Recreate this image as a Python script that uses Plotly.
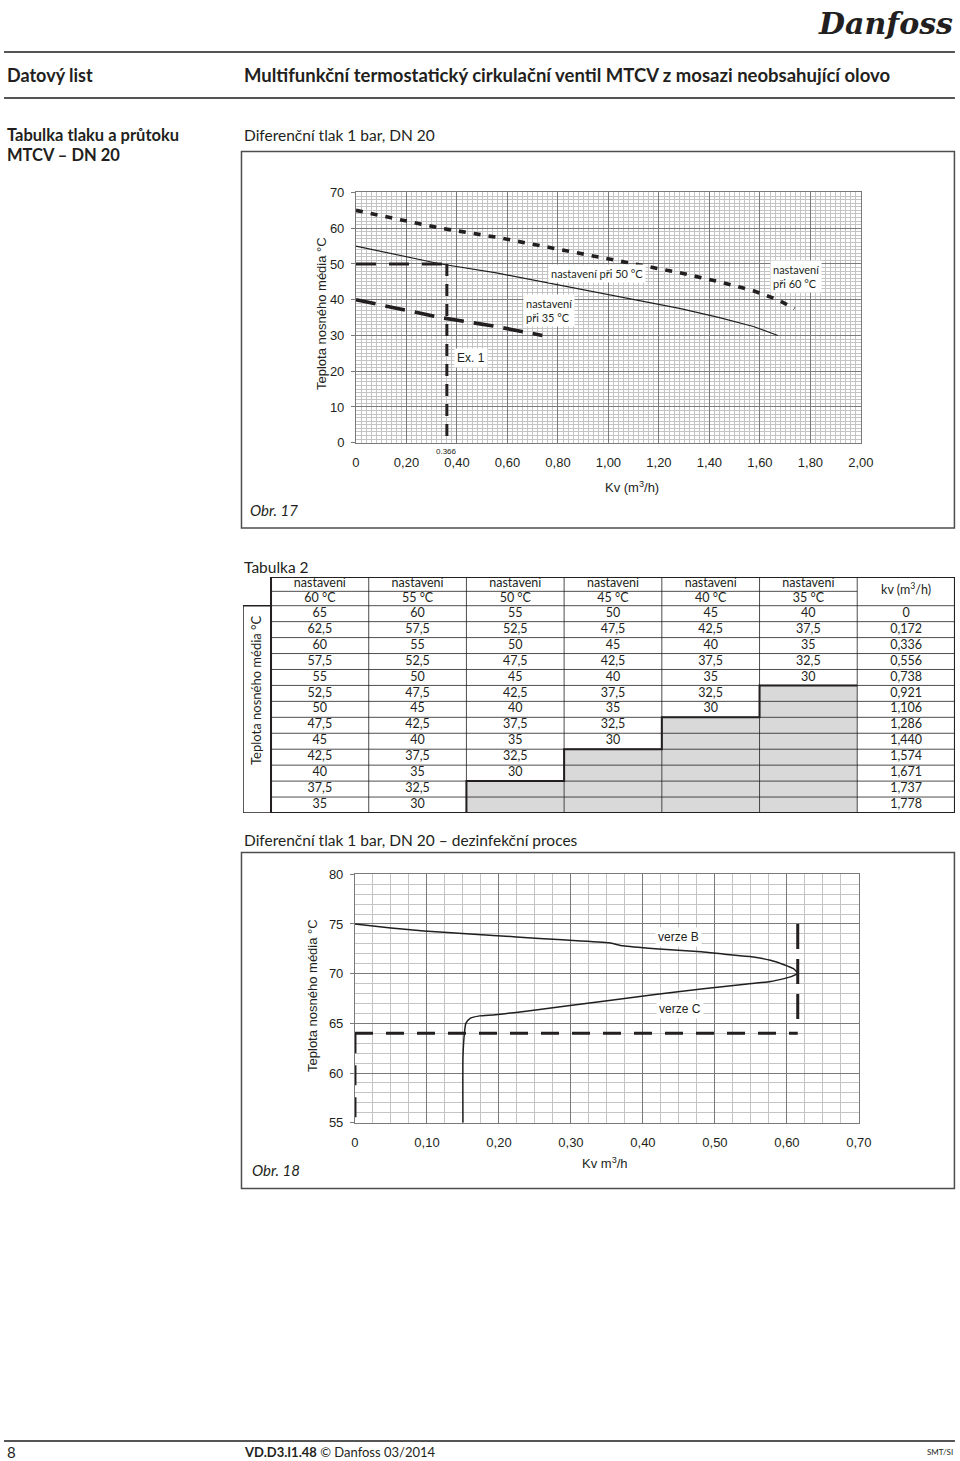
import plotly.graph_objects as go

# The photographed page comes out slightly scaled/offset relative to figure pixels
# (measured: screen_x ~ 4 + 0.9826*fig_x, screen_y ~ 7 + 0.9898*fig_y).
# All positions below are given in reference-picture pixels and mapped back.
SX, SY, OX, OY = 0.9826, 0.9898, 4.0, 7.0
W = int((960 - OX) / SX) + 1
H = int((1461 - OY) / SY) + 1
def px(x): return ((x - OX) / SX) / W
def py(y): return 1 - ((y - OY) / SY) / H

INK = "#231f20"
MYRIAD = "Lato, 'Open Sans', sans-serif"
COND = "Lato, Roboto, sans-serif"
ARIAL = "'Liberation Sans', Arial, sans-serif"

# ---------------- data: Tabulka 2 ----------------
settings = ["60 °C", "55 °C", "50 °C", "45 °C", "40 °C", "35 °C"]
kv = [0, 0.172, 0.336, 0.556, 0.738, 0.921, 1.106, 1.286, 1.440, 1.574, 1.671, 1.737, 1.778]
t60 = [65, 62.5, 60, 57.5, 55, 52.5, 50, 47.5, 45, 42.5, 40, 37.5, 35]
t55 = [60, 57.5, 55, 52.5, 50, 47.5, 45, 42.5, 40, 37.5, 35, 32.5, 30]
t50 = [55, 52.5, 50, 47.5, 45, 42.5, 40, 37.5, 35, 32.5, 30]
t45 = [50, 47.5, 45, 42.5, 40, 37.5, 35, 32.5, 30]
t40 = [45, 42.5, 40, 37.5, 35, 32.5, 30]
t35 = [40, 37.5, 35, 32.5, 30]
table_cols = [t60, t55, t50, t45, t40, t35]

# ---------------- data: Obr. 17 ----------------
x1_ticks = [0, 0.2, 0.4, 0.6, 0.8, 1.0, 1.2, 1.4, 1.6, 1.8, 2.0]
x1_ticktext = ["0", "0,20", "0,40", "0,60", "0,80", "1,00", "1,20", "1,40", "1,60", "1,80", "2,00"]
y1_ticks = [0, 10, 20, 30, 40, 50, 60, 70]
n60_plot = 12          # 60 °C curve drawn up to kv 1,737
ex1_kv = 0.36
ex1_label = "0.366"
ex1_temp = 50

# ---------------- data: Obr. 18 ----------------
x2_ticks = [0, 0.1, 0.2, 0.3, 0.4, 0.5, 0.6, 0.7]
x2_ticktext = ["0", "0,10", "0,20", "0,30", "0,40", "0,50", "0,60", "0,70"]
y2_ticks = [55, 60, 65, 70, 75, 80]
bc_kv = [0, 0.05, 0.096, 0.16, 0.224, 0.288, 0.353, 0.372, 0.417, 0.481, 0.513, 0.551,
         0.577, 0.596, 0.609, 0.615, 0.606, 0.596, 0.577, 0.545, 0.513, 0.481, 0.417,
         0.353, 0.288, 0.224, 0.192, 0.173, 0.160, 0.154, 0.152, 0.150, 0.150]
bc_temp = [75, 74.6, 74.3, 74.0, 73.7, 73.4, 73.1, 72.8, 72.5, 72.2, 71.95, 71.7,
           71.35, 70.9, 70.5, 70.05, 69.7, 69.5, 69.2, 68.95, 68.7, 68.45, 67.9,
           67.3, 66.7, 66.1, 65.85, 65.75, 65.5, 65.0, 64.0, 61.6, 55]
dis_temp = 64
dis_kv = 0.615
dis_top = 75
dis_bottom = 65
y2_min = 55


def fmt(v):
    return f"{v:g}".replace(".", ",")


def fmt_kv(v):
    return "0" if v == 0 else f"{v:.3f}".replace(".", ",")


fig = go.Figure()

# ================= Obr. 17 =================
fig.add_trace(go.Scatter(x=kv[:n60_plot], y=t60[:n60_plot], mode="lines",
                         line=dict(color=INK, width=3.6, dash="7px,8px"),
                         xaxis="x", yaxis="y"))
fig.add_trace(go.Scatter(x=kv[:len(t50)], y=t50, mode="lines",
                         line=dict(color=INK, width=1.2),
                         xaxis="x", yaxis="y"))
fig.add_trace(go.Scatter(x=kv[:len(t35)], y=t35, mode="lines",
                         line=dict(color=INK, width=3.6, dash="20px,10px"),
                         xaxis="x", yaxis="y"))
fig.add_trace(go.Scatter(x=[0, ex1_kv], y=[ex1_temp, ex1_temp], mode="lines",
                         line=dict(color=INK, width=3, dash="20px,13px"),
                         xaxis="x", yaxis="y"))
fig.add_trace(go.Scatter(x=[ex1_kv, ex1_kv], y=[ex1_temp, 0], mode="lines",
                         line=dict(color=INK, width=3, dash="12px,8px"),
                         xaxis="x", yaxis="y"))

# ================= Obr. 18 =================
fig.add_trace(go.Scatter(x=bc_kv, y=bc_temp, mode="lines",
                         line=dict(color=INK, width=1.5, shape="spline", smoothing=0.5),
                         xaxis="x2", yaxis="y2"))
fig.add_trace(go.Scatter(x=[0, dis_kv], y=[dis_temp, dis_temp], mode="lines",
                         line=dict(color=INK, width=3, dash="18px,13px"),
                         xaxis="x2", yaxis="y2"))
fig.add_trace(go.Scatter(x=[dis_kv, dis_kv], y=[dis_top, dis_bottom], mode="lines",
                         line=dict(color=INK, width=3, dash="25px,10px"),
                         xaxis="x2", yaxis="y2"))
fig.add_trace(go.Scatter(x=[0, 0], y=[dis_temp, y2_min], mode="lines",
                         line=dict(color=INK, width=3, dash="20px,12px"),
                         xaxis="x2", yaxis="y2"))

# ================= Tabulka 2 (axis 3) =================
nrows = len(kv)
counts = [len(c) for c in table_cols]
shapes = []
for c, n in enumerate(counts):
    if n < nrows:
        shapes.append(dict(type="rect", xref="x3", yref="y3", x0=c, x1=c + 1, y0=n, y1=nrows,
                           fillcolor="#d9d9d9", line=dict(width=0), layer="below"))
for c in range(1, 7):
    shapes.append(dict(type="line", xref="x3", yref="y3", x0=c, x1=c, y0=-1.8, y1=nrows,
                       line=dict(color=INK, width=0.8)))
for r in range(0, nrows):
    shapes.append(dict(type="line", xref="x3", yref="y3", x0=0, x1=7, y0=r, y1=r,
                       line=dict(color=INK, width=0.8)))
shapes.append(dict(type="line", xref="x3", yref="y3", x0=0, x1=6, y0=-0.9, y1=-0.9,
                   line=dict(color=INK, width=0.8)))
shapes.append(dict(type="rect", xref="x3", yref="y3", x0=0, x1=7, y0=-1.8, y1=nrows,
                   line=dict(color=INK, width=2)))
shapes.append(dict(type="rect", xref="x3", yref="y3", x0=-0.287, x1=0, y0=0, y1=nrows,
                   line=dict(color=INK, width=1.5)))

# staircase border between values and grey cells
sx, sy = [6], [counts[5]]
c = 5
while c >= 1 and counts[c] < nrows:
    sx += [c, c]
    sy += [counts[c], counts[c - 1]]
    c -= 1
fig.add_trace(go.Scatter(x=sx, y=sy, mode="lines", line=dict(color=INK, width=2),
                         xaxis="x3", yaxis="y3"))

tx, ty, tt = [], [], []
for c, col in enumerate(table_cols):
    tx += [c + 0.5, c + 0.5]
    ty += [-1.35, -0.45]
    tt += ["nastavení", settings[c]]
    for r, v in enumerate(col):
        tx.append(c + 0.5); ty.append(r + 0.5); tt.append(fmt(v))
tx.append(6.5); ty.append(-0.9); tt.append("kv (m<sup>3</sup>/h)")
for r, v in enumerate(kv):
    tx.append(6.5); ty.append(r + 0.5); tt.append(fmt_kv(v))
fig.add_trace(go.Scatter(x=tx, y=ty, text=tt, mode="text", textposition="middle center",
                         textfont=dict(family=MYRIAD, size=12.5, color=INK),
                         xaxis="x3", yaxis="y3"))

# ================= page decorations =================
def hline(y, x0=0, x1=955, w=2, color="#555555"):
    shapes.append(dict(type="line", xref="paper", yref="paper", x0=max(px(x0), 0), x1=px(x1),
                       y0=py(y), y1=py(y), line=dict(color=color, width=w)))

hline(52)
hline(98)
hline(1441)
for (x0, y0, x1, y1) in [(241.5, 151.5, 954.5, 528), (241.5, 852.5, 954.5, 1188.5)]:
    shapes.append(dict(type="rect", xref="paper", yref="paper", x0=px(x0), x1=px(x1),
                       y0=py(y1), y1=py(y0), line=dict(color="#4d4d4d", width=1.5)))

ann = []
def text(x, y, s, size=14, family=MYRIAD, xanchor="left", yanchor="middle", angle=0,
         color=INK, **kw):
    ann.append(dict(xref="paper", yref="paper", x=max(px(x), 0), y=py(y), text=s, showarrow=False,
                    xanchor=xanchor, yanchor=yanchor, textangle=angle,
                    font=dict(family=family, size=size, color=color), **kw))

text(955, 24, "<b><i>Danfoss</i></b>", size=30, family="'DejaVu Serif', serif", xanchor="right")
text(5, 75, "<b>Datový list</b>", size=18, family=COND)
text(242, 75, "<b>Multifunkční termostatický cirkulační ventil MTCV z mosazi neobsahující olovo</b>",
     size=18.5, family=COND)
text(5, 135, "<b>Tabulka tlaku a průtoku</b>", size=16.5, family=COND)
text(5, 155, "<b>MTCV – DN 20</b>", size=16.5, family=COND)
text(242, 135, "Diferenční tlak 1 bar, DN 20", size=15.5, family=COND)
text(242, 567, "Tabulka 2", size=15.5, family=COND)
text(242, 840, "Diferenční tlak 1 bar, DN 20 – dezinfekční proces", size=15.5, family=COND)
text(5, 1452, "8", size=15, family=COND)
text(242, 1452, "<b>VD.D3.I1.48</b> © Danfoss 03/2014", size=13, family=COND)
text(955, 1452, "SMT/SI", size=8, family=COND, xanchor="right")

text(248, 510, "<i>Obr. 17</i>", size=15, family=MYRIAD)
text(322, 313, "Teplota nosného média °C", size=13, family=ARIAL, xanchor="center", angle=-90)
text(632, 487, "Kv (m<sup>3</sup>/h)", size=13, family=ARIAL, xanchor="center")
text(250, 1170, "<i>Obr. 18</i>", size=15, family=MYRIAD)
text(313, 995, "Teplota nosného média °C", size=13, family=ARIAL, xanchor="center", angle=-90)
text(605, 1163, "Kv m<sup>3</sup>/h", size=13, family=ARIAL, xanchor="center")
text(256, 690, "Teplota nosného média °C", size=13, family=MYRIAD, xanchor="center", angle=-90)

def dtext(xr, yr, x, y, s, size=12, family=MYRIAD, xanchor="center", align="left", **kw):
    ann.append(dict(xref=xr, yref=yr, x=x, y=y, text=s, showarrow=False, xanchor=xanchor,
                    yanchor="middle", align=align, bgcolor="white", borderpad=2,
                    font=dict(family=family, size=size, color=INK), **kw))

dtext("x", "y", 0.955, 47.2, "nastavení při 50 °C", size=11)
dtext("x", "y", 0.66, 37.0, "nastavení<br>při 35 °C", size=11, xanchor="left")
dtext("x", "y", 1.64, 46.6, "nastavení<br>při 60 °C", size=11, xanchor="left")
dtext("x", "y", 0.39, 23.8, "Ex. 1", size=12, family=ARIAL, xanchor="left")
ann.append(dict(xref="x", yref="y", x=ex1_kv, y=0, text=ex1_label, showarrow=False,
                yshift=-9, font=dict(family=ARIAL, size=8, color=INK)))
dtext("x2", "y2", 0.449, 73.7, "verze B", size=12, family=ARIAL)
dtext("x2", "y2", 0.451, 66.45, "verze C", size=12, family=ARIAL)

MAJOR = "#7a7a7a"
MINOR = "#c4c4c4"
tickfont = dict(family=ARIAL, size=13, color=INK)

fig.update_layout(
    width=W, height=H, margin=dict(l=0, r=0, t=0, b=0),
    paper_bgcolor="white", plot_bgcolor="white", showlegend=False,
    separators=", ",
    shapes=shapes, annotations=ann,
    xaxis=dict(domain=[px(356), px(861)], range=[0, 2], tickvals=x1_ticks, ticktext=x1_ticktext,
               showgrid=True, gridcolor=MAJOR, gridwidth=1, zeroline=False,
               minor=dict(dtick=0.02, showgrid=True, gridcolor=MINOR, gridwidth=0.6),
               showline=True, linecolor=MAJOR, mirror=True, ticks="", tickfont=tickfont,
               ticklabelstandoff=8, anchor="y", fixedrange=True),
    yaxis=dict(domain=[py(442.7), py(192.5)], range=[0, 70], tickvals=y1_ticks,
               showgrid=True, gridcolor=MAJOR, gridwidth=1, zeroline=False,
               minor=dict(dtick=1, showgrid=True, gridcolor=MINOR, gridwidth=0.6),
               showline=True, linecolor=MAJOR, mirror=True, ticks="outside", ticklen=4,
               tickcolor=MAJOR, tickfont=tickfont, ticklabelstandoff=4, anchor="x",
               fixedrange=True),
    xaxis2=dict(domain=[px(355), px(859)], range=[0, 0.7], tickvals=x2_ticks, ticktext=x2_ticktext,
                showgrid=True, gridcolor=MAJOR, gridwidth=1, zeroline=False,
                minor=dict(dtick=0.025, showgrid=True, gridcolor=MINOR, gridwidth=0.6),
                showline=True, linecolor=MAJOR, mirror=True, ticks="", tickfont=tickfont,
                ticklabelstandoff=8, anchor="y2", fixedrange=True),
    yaxis2=dict(domain=[py(1122.7), py(874.3)], range=[55, 80], tickvals=y2_ticks,
                showgrid=True, gridcolor=MAJOR, gridwidth=1, zeroline=False,
                minor=dict(dtick=1, showgrid=True, gridcolor=MINOR, gridwidth=0.6),
                showline=True, linecolor=MAJOR, mirror=True, ticks="outside", ticklen=4,
                tickcolor=MAJOR, tickfont=tickfont, ticklabelstandoff=4, anchor="x2",
                fixedrange=True),
    xaxis3=dict(domain=[px(243), min(px(955), 1.0)], range=[-0.287, 7], visible=False,
                anchor="y3", fixedrange=True),
    yaxis3=dict(domain=[py(813), py(577)], range=[nrows, -1.8], visible=False, anchor="x3",
                fixedrange=True),
)

fig.write_html("out.html")
